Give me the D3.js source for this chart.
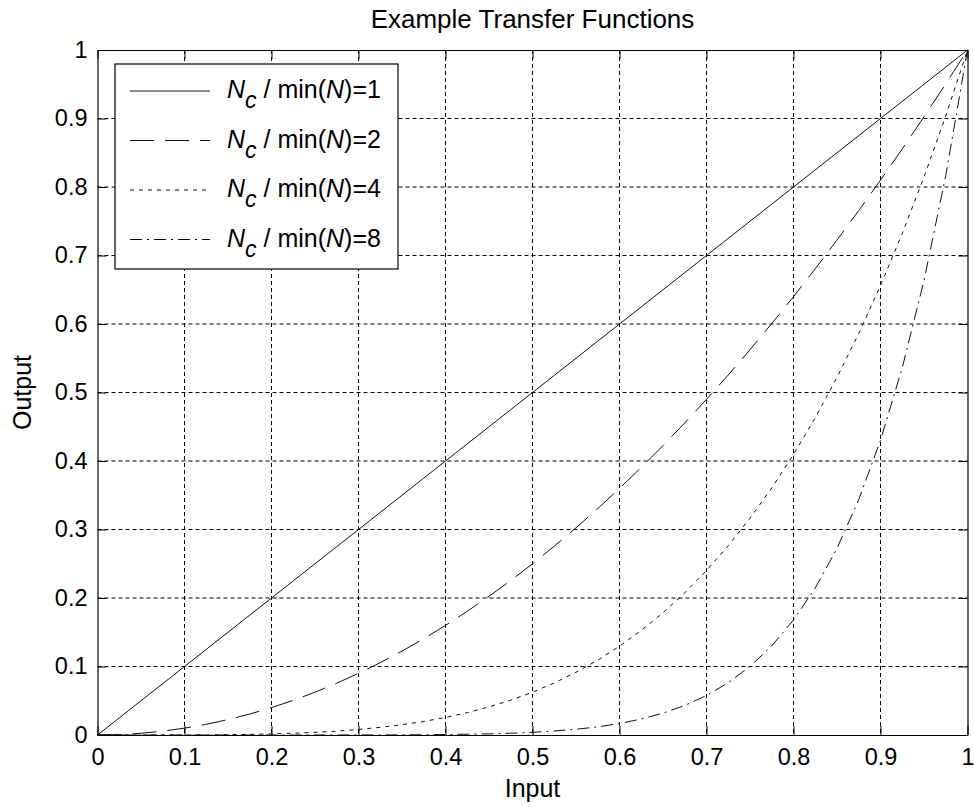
<!DOCTYPE html>
<html>
<head>
<meta charset="utf-8">
<script src="https://cdn.jsdelivr.net/npm/d3@7"></script>
<style>
  html, body { margin: 0; padding: 0; background: #fff; }
  svg { display: block; }
  text { font-family: "Liberation Sans", Arial, sans-serif; fill: #000; }
</style>
</head>
<body>
<svg id="chart" width="974" height="807"></svg>
<script>
// Input samples (x axis)
const inputValues = [0, 0.025, 0.05, 0.075, 0.1, 0.125, 0.15, 0.175, 0.2, 0.225, 0.25, 0.275, 0.3, 0.325, 0.35, 0.375,
  0.4, 0.425, 0.45, 0.475, 0.5, 0.525, 0.55, 0.575, 0.6, 0.625, 0.65, 0.675, 0.7, 0.725, 0.75, 0.775,
  0.8, 0.825, 0.85, 0.875, 0.9, 0.925, 0.95, 0.975, 1];

// Output for Nc / min(N) = 1
const outputRatio1 = [0, 0.025, 0.05, 0.075, 0.1, 0.125, 0.15, 0.175, 0.2, 0.225, 0.25, 0.275, 0.3, 0.325, 0.35, 0.375,
  0.4, 0.425, 0.45, 0.475, 0.5, 0.525, 0.55, 0.575, 0.6, 0.625, 0.65, 0.675, 0.7, 0.725, 0.75, 0.775,
  0.8, 0.825, 0.85, 0.875, 0.9, 0.925, 0.95, 0.975, 1];

// Output for Nc / min(N) = 2
const outputRatio2 = [0, 0.0006, 0.0025, 0.0056, 0.01, 0.0156, 0.0225, 0.0306, 0.04, 0.0506, 0.0625, 0.0756, 0.09,
  0.1056, 0.1225, 0.1406, 0.16, 0.1806, 0.2025, 0.2256, 0.25, 0.2756, 0.3025, 0.3306, 0.36, 0.3906, 0.4225,
  0.4556, 0.49, 0.5256, 0.5625, 0.6006, 0.64, 0.6806, 0.7225, 0.7656, 0.81, 0.8556, 0.9025, 0.9506, 1];

// Output for Nc / min(N) = 4
const outputRatio4 = [0, 0, 0, 0, 0.0001, 0.0002, 0.0005, 0.0009, 0.0016, 0.0026, 0.0039, 0.0057, 0.0081, 0.0112,
  0.015, 0.0198, 0.0256, 0.0326, 0.041, 0.0509, 0.0625, 0.076, 0.0915, 0.1093, 0.1296, 0.1526, 0.1785, 0.2076,
  0.2401, 0.2763, 0.3164, 0.3607, 0.4096, 0.4632, 0.522, 0.5862, 0.6561, 0.7321, 0.8145, 0.9037, 1];

// Output for Nc / min(N) = 8
const outputRatio8 = [0, 0, 0, 0, 0, 0, 0, 0, 0, 0, 0, 0, 0.0001, 0.0001, 0.0002, 0.0004, 0.0007, 0.0011, 0.0017,
  0.0026, 0.0039, 0.0058, 0.0084, 0.0119, 0.0168, 0.0233, 0.0319, 0.0431, 0.0576, 0.0763, 0.1001, 0.1301,
  0.1678, 0.2146, 0.2725, 0.3436, 0.4305, 0.536, 0.6634, 0.8167, 1];

const legendRatios = ["1", "2", "4", "8"];
const xTickValues = [0, 0.1, 0.2, 0.3, 0.4, 0.5, 0.6, 0.7, 0.8, 0.9, 1];
const yTickValues = [0, 0.1, 0.2, 0.3, 0.4, 0.5, 0.6, 0.7, 0.8, 0.9, 1];

const seriesList = [outputRatio1, outputRatio2, outputRatio4, outputRatio8];
const dashStyles = [null, "24,11", "4,5", "12,5,2,5"];

const svg = d3.select("#chart");
const plot = { left: 97.5, right: 967.5, top: 50, bottom: 735 };

const x = d3.scaleLinear().domain([0, 1]).range([plot.left, plot.right]);
const y = d3.scaleLinear().domain([0, 1]).range([plot.bottom, plot.top]);

// Dashed grid
const grid = svg.append("g").attr("stroke", "#000").attr("stroke-width", 1)
  .attr("stroke-dasharray", "4,3").attr("fill", "none");
xTickValues.slice(1, -1).forEach(v => {
  grid.append("line").attr("x1", x(v)).attr("x2", x(v)).attr("y1", plot.top).attr("y2", plot.bottom);
});
yTickValues.slice(1, -1).forEach(v => {
  grid.append("line").attr("y1", y(v)).attr("y2", y(v)).attr("x1", plot.left).attr("x2", plot.right);
});

// Curves
const line = d3.line().x((d, i) => x(inputValues[i])).y(d => y(d));
seriesList.forEach((s, k) => {
  svg.append("path").datum(s)
    .attr("d", line)
    .attr("fill", "none")
    .attr("stroke", "#111")
    .attr("stroke-width", 1)
    .attr("stroke-dasharray", dashStyles[k]);
});

// Axes with inward ticks on all four sides
const tickLen = 9;
const fmt = d => d3.format("~g")(d);
const bottomAxis = d3.axisBottom(x).tickValues(xTickValues).tickFormat(fmt).tickSizeInner(-tickLen).tickSizeOuter(0).tickPadding(13);
const leftAxis = d3.axisLeft(y).tickValues(yTickValues).tickFormat(fmt).tickSizeInner(-tickLen).tickSizeOuter(0).tickPadding(10);
const topAxis = d3.axisTop(x).tickValues(xTickValues).tickFormat("").tickSizeInner(-tickLen).tickSizeOuter(0);
const rightAxis = d3.axisRight(y).tickValues(yTickValues).tickFormat("").tickSizeInner(-tickLen).tickSizeOuter(0);

function styleAxis(g) {
  g.selectAll("path").attr("stroke", "#000").attr("stroke-width", 1.2);
  g.selectAll("line").attr("stroke", "#000").attr("stroke-width", 1);
  g.selectAll("text").attr("font-family", "'Liberation Sans', Arial, sans-serif").attr("font-size", 23.5).attr("fill", "#000");
}
svg.append("g").attr("transform", `translate(0,${plot.bottom})`).call(bottomAxis).call(styleAxis)
  .selectAll("text").attr("dy", "0.71em");
svg.append("g").attr("transform", `translate(${plot.left},0)`).call(leftAxis).call(styleAxis)
  .selectAll("text").attr("dy", "0.3em");
svg.append("g").attr("transform", `translate(0,${plot.top})`).call(topAxis).call(styleAxis);
svg.append("g").attr("transform", `translate(${plot.right},0)`).call(rightAxis).call(styleAxis);

// Title and axis labels
svg.append("text").attr("x", (plot.left + plot.right) / 2).attr("y", 28)
  .attr("text-anchor", "middle").attr("font-size", 26).text("Example Transfer Functions");
svg.append("text").attr("x", (plot.left + plot.right) / 2).attr("y", 797)
  .attr("text-anchor", "middle").attr("font-size", 25).text("Input");
svg.append("text").attr("transform", `translate(31,${(plot.top + plot.bottom) / 2}) rotate(-90)`)
  .attr("text-anchor", "middle").attr("font-size", 25).text("Output");

// Legend
const legend = svg.append("g");
legend.append("rect").attr("x", 115).attr("y", 64).attr("width", 283).attr("height", 205)
  .attr("fill", "#fff").attr("stroke", "#000").attr("stroke-width", 1.2);
legendRatios.forEach((r, k) => {
  const ry = 91 + k * 49.5;
  legend.append("line").attr("x1", 130).attr("x2", 210).attr("y1", ry).attr("y2", ry)
    .attr("stroke", "#111").attr("stroke-width", 1).attr("stroke-dasharray", dashStyles[k]);
  const t = legend.append("text").attr("x", 227).attr("y", ry + 7).attr("font-size", 25);
  t.append("tspan").attr("font-style", "italic").text("N");
  t.append("tspan").attr("font-style", "italic").attr("font-size", 23).attr("dy", 10).text("c");
  t.append("tspan").attr("dy", -10).text(" / min(");
  t.append("tspan").attr("font-style", "italic").text("N");
  t.append("tspan").text(")=" + r);
});
</script>
</body>
</html>
